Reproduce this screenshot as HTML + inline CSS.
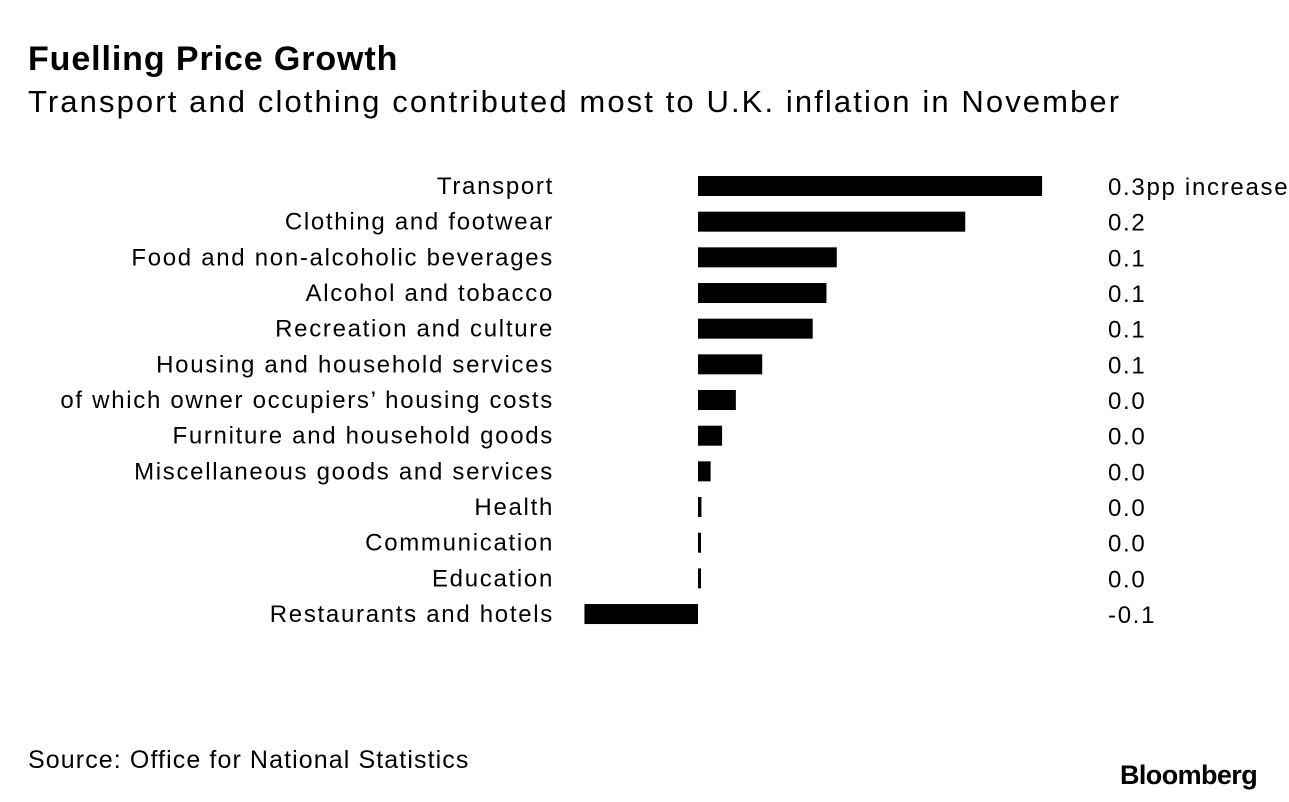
<!DOCTYPE html>
<html><head><meta charset="utf-8"><style>
body{margin:0;background:#fff;width:1289px;height:802px;overflow:hidden;font-family:"Liberation Sans",sans-serif;color:#000}
#title{position:absolute;left:28px;top:40px;font-size:34px;font-weight:bold;letter-spacing:0.9px}
#sub{position:absolute;left:28px;top:84px;font-size:31px;letter-spacing:2.1px}
#src{position:absolute;left:28px;top:746px;font-size:25px;letter-spacing:1.1px}
#logo{position:absolute;left:1120px;top:760px;font-size:27px;font-weight:bold;letter-spacing:-0.6px}
svg{position:absolute;left:0;top:0}
</style></head><body>
<div id="title">Fuelling Price Growth</div>
<div id="sub">Transport and clothing contributed most to U.K. inflation in November</div>
<svg id="chart" width="1289" height="802"></svg>
<div id="src">Source: Office for National Statistics</div>
<div id="logo">Bloomberg</div>
<script>
const categories=["Transport","Clothing and footwear","Food and non-alcoholic beverages","Alcohol and tobacco","Recreation and culture","Housing and household services","of which owner occupiers’ housing costs","Furniture and household goods","Miscellaneous goods and services","Health","Communication","Education","Restaurants and hotels"];
const values=[0.3,0.233,0.121,0.112,0.1,0.056,0.033,0.021,0.011,0.003,0.002,0.002,-0.099];
const valueLabels=["0.3pp increase","0.2","0.1","0.1","0.1","0.1","0.0","0.0","0.0","0.0","0.0","0.0","-0.1"];
const svg=document.getElementById('chart');
const NS='http://www.w3.org/2000/svg';
const x0=698, pxPerUnit=1147;
const xs=v=>x0+v*pxPerUnit;
const ys=i=>186+i*35.67;
categories.forEach((c,i)=>{
  const y=ys(i);
  const t=document.createElementNS(NS,'text');
  t.setAttribute('x',554);t.setAttribute('y',y+8);t.setAttribute('text-anchor','end');
  t.setAttribute('font-size','24');t.setAttribute('letter-spacing','1.7');t.textContent=c;
  
  
  svg.appendChild(t);
  const v=values[i];
  const r=document.createElementNS(NS,'rect');
  const a=xs(Math.min(0,v)),b=xs(Math.max(0,v));
  r.setAttribute('x',a);r.setAttribute('y',y-10);
  r.setAttribute('width',Math.max(3,b-a));r.setAttribute('height',20);r.setAttribute('fill','#000');
  
  
  svg.appendChild(r);
  const l=document.createElementNS(NS,'text');
  l.setAttribute('x',1108);l.setAttribute('y',y+9);l.setAttribute('font-size','24');l.setAttribute('letter-spacing','1.7');
  l.textContent=valueLabels[i];
  
  
  svg.appendChild(l);
});
</script>
</body></html>
